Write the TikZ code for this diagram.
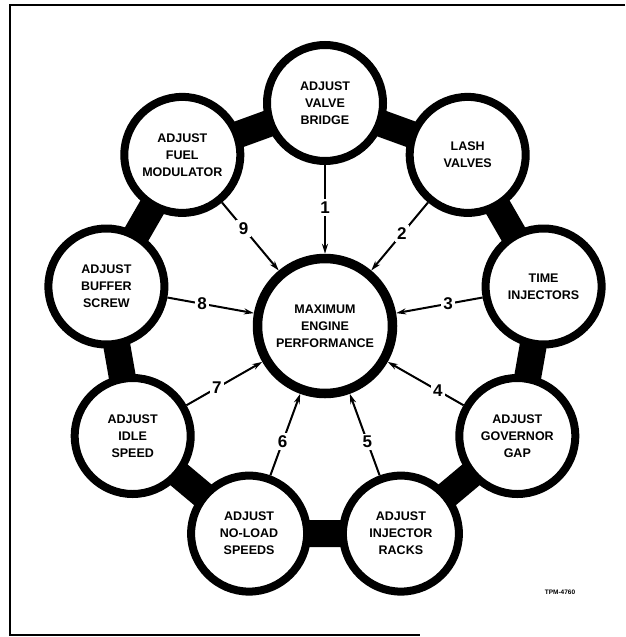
\documentclass[tikz,border=0pt]{standalone}
\usepackage{fontspec}
\setmainfont{Liberation Sans}
\usetikzlibrary{arrows.meta,backgrounds}
\tikzset{
  stepcirc/.style={circle,draw=black,fill=white,line width=8pt,minimum size=116pt,inner sep=0pt,align=center,font=\bfseries\fontsize{12.5}{17}\selectfont},
  goalcirc/.style={stepcirc,line width=9.5pt,minimum size=135pt},
  linkbar/.style={draw=black,line width=27pt},
  feed/.style={draw=black,line width=2pt,-{Stealth[length=10pt,width=6pt]}},
  stepno/.style={fill=white,inner sep=2.5pt,font=\bfseries\fontsize{17}{17}\selectfont},
}
\begin{document}
\begin{tikzpicture}[x=1pt,y=-1pt]
\path[use as bounding box] (0,0) rectangle (625,637);
% frame
\draw[line width=1.5pt] (625,5) -- (10,5) -- (10,635) -- (420,635);
% the goal
\node[goalcirc] (perf) at (325,326) {MAXIMUM\\ENGINE\\PERFORMANCE};
% the nine steps round it
\node[stepcirc] (valve) at (325,103) {ADJUST\\VALVE\\BRIDGE};
\node[stepcirc] (lash) at (467.7,154.9) {LASH\\VALVES};
\node[stepcirc] (timing) at (543.6,286.5) {TIME\\INJECTORS};
\node[stepcirc] (governor) at (517.3,436) {ADJUST\\GOVERNOR\\GAP};
\node[stepcirc] (racks) at (400.9,533.6) {ADJUST\\INJECTOR\\RACKS};
\node[stepcirc] (noload) at (249.1,533.6) {ADJUST\\NO-LOAD\\SPEEDS};
\node[stepcirc] (idle) at (132.7,436) {ADJUST\\IDLE\\SPEED};
\node[stepcirc] (buffer) at (106.4,286.5) {ADJUST\\BUFFER\\SCREW};
\node[stepcirc] (fuel) at (182.3,154.9) {ADJUST\\FUEL\\MODULATOR};
% heavy links of the ring
\begin{pgfonlayer}{background}
\draw[linkbar] (valve.center) -- (lash.center) -- (timing.center) -- (governor.center) -- (racks.center) -- (noload.center) -- (idle.center) -- (buffer.center) -- (fuel.center) -- cycle;
\end{pgfonlayer}
% numbered arrows
\draw[feed] (valve) -- node[stepno,pos=.48] (n1) {1} (perf);
\draw[feed] (lash) -- node[stepno,pos=.46] (n2) {2} (perf);
\draw[feed] (timing) -- node[stepno,pos=.40] (n3) {3} (perf);
\draw[feed] (governor) -- node[stepno,pos=.34] (n4) {4} (perf);
\draw[feed] (racks) -- node[stepno,pos=.41] (n5) {5} (perf);
\draw[feed] (noload) -- node[stepno,pos=.41] (n6) {6} (perf);
\draw[feed] (idle) -- node[stepno,pos=.40] (n7) {7} (perf);
\draw[feed] (buffer) -- node[stepno,pos=.40] (n8) {8} (perf);
\draw[feed] (fuel) -- node[stepno,pos=.38] (n9) {9} (perf);
\node[font=\bfseries\fontsize{6.5}{7}\selectfont] (tag) at (560,592) {TPM-4760};
\end{tikzpicture}
\end{document}
